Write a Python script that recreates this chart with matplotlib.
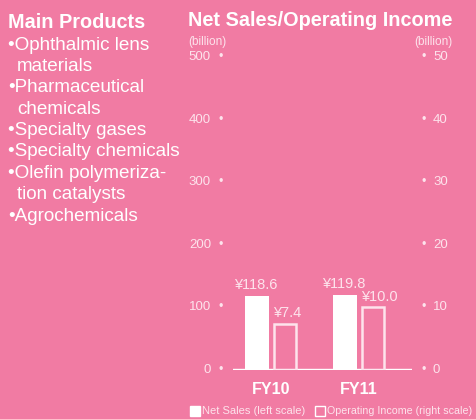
import matplotlib.pyplot as plt
import matplotlib.transforms as mtransforms
from matplotlib.patches import Rectangle

# data
years = ["FY10", "FY11"]
net_sales = [118.6, 119.8]
op_income = [7.4, 10.0]
left_ticks = [0, 100, 200, 300, 400, 500]
right_ticks = [0, 10, 20, 30, 40, 50]
products = ["\u2022Ophthalmic lens", "materials", "\u2022Pharmaceutical", "chemicals",
            "\u2022Specialty gases", "\u2022Specialty chemicals", "\u2022Olefin polymeriza-",
            "tion catalysts", "\u2022Agrochemicals"]

bg = "#F17BA3"
fg = "#FFFFFF"
soft = "#FDE3EC"
plt.rcParams['font.family'] = ['Liberation Sans', 'DejaVu Sans']

W, H = 477, 419
fig = plt.figure(figsize=(W / 100, H / 100), dpi=100, facecolor=bg)

# left column of products
fig.text(8 / W, 1 - 22 / H, "Main Products", color=fg, fontsize=14.3,
         fontweight="bold", va="center", ha="left")
for i, line in enumerate(products):
    x = 8 if line.startswith("\u2022") else 17
    fig.text(x / W, 1 - (45 + i * 21.4) / H, line, color=fg, fontsize=13.6,
             va="center", ha="left")

# chart title
fig.text(188 / W, 1 - 21 / H, "Net Sales/Operating Income", color=fg,
         fontsize=14.3, fontweight="bold", va="center", ha="left")
fig.text(188 / W, 1 - 42 / H, "(billion)", color=soft, fontsize=8.5,
         va="center", ha="left")
fig.text(453 / W, 1 - 42 / H, "(billion)", color=soft, fontsize=8.5,
         va="center", ha="right")

# axes: x 233..412 px, y 0 at 370 px, 500 at 57 px
ax = fig.add_axes([233 / W, 1 - 370 / H, (412 - 233) / W, (370 - 57) / H])
ax.set_facecolor("none")
ax2 = ax.twinx()
ax2.set_facecolor("none")
ax.set_ylim(0, 500)
ax2.set_ylim(0, 50)
ax.set_xlim(-0.43, 1.60)

bw = 0.27
xs = list(range(len(years)))
ax.bar([x - 0.16 for x in xs], net_sales, width=bw, color=fg, edgecolor=fg, linewidth=0)
ax2.bar([x + 0.16 for x in xs], op_income, width=bw - 0.02, facecolor="none",
        edgecolor=soft, linewidth=1.8)

for x, v in zip(xs, net_sales):
    ax.text(x - 0.17, v + 6, "\u00a5%.1f" % v, color=soft, fontsize=10.5,
            ha="center", va="bottom")
for x, v in zip(xs, op_income):
    ax2.text(x + 0.02, v + 0.6, "\u00a5%.1f" % v, color=soft, fontsize=10.5,
             ha="left", va="bottom")

for a in (ax, ax2):
    for s in a.spines.values():
        s.set_visible(False)
    a.set_xticks([])
    a.set_yticks([])
ax.axhline(1.5, color=fg, linewidth=1)

# tick labels with dots
tl = mtransforms.blended_transform_factory(ax.transAxes, ax.transData)
for t in left_ticks:
    ax.text(-12 / 179, t, "\u2022", color=soft, fontsize=9, ha="center", va="center",
            transform=tl, clip_on=False)
    ax.text(-22 / 179, t, str(t), color=soft, fontsize=9.5, ha="right", va="center",
            transform=tl, clip_on=False)
tr = mtransforms.blended_transform_factory(ax2.transAxes, ax2.transData)
for t in right_ticks:
    ax2.text(1 + 12 / 179, t, "\u2022", color=soft, fontsize=9, ha="center", va="center",
             transform=tr, clip_on=False)
    ax2.text(1 + 21 / 179, t, str(t), color=soft, fontsize=9.5, ha="left", va="center",
             transform=tr, clip_on=False)

# category labels
tx = mtransforms.blended_transform_factory(ax.transData, fig.transFigure)
for x, y in zip(xs, years):
    ax.text(x, 1 - 389 / H, y, color=fg, fontsize=11.5, fontweight="bold",
            ha="center", va="center", transform=tx)

# legend
fig.patches.append(Rectangle((190 / W, 1 - 416 / H), 10 / W, 10 / H, facecolor=fg,
                             edgecolor=fg, transform=fig.transFigure))
fig.text(202 / W, 1 - 411 / H, "Net Sales (left scale)", color=soft, fontsize=8,
         va="center", ha="left")
fig.patches.append(Rectangle((315 / W, 1 - 416 / H), 10 / W, 10 / H, facecolor="none",
                             edgecolor=fg, linewidth=1, transform=fig.transFigure))
fig.text(327 / W, 1 - 411 / H, "Operating Income (right scale)", color=soft,
         fontsize=7.7, va="center", ha="left")

fig.savefig("out.png", dpi=100, facecolor=bg)
